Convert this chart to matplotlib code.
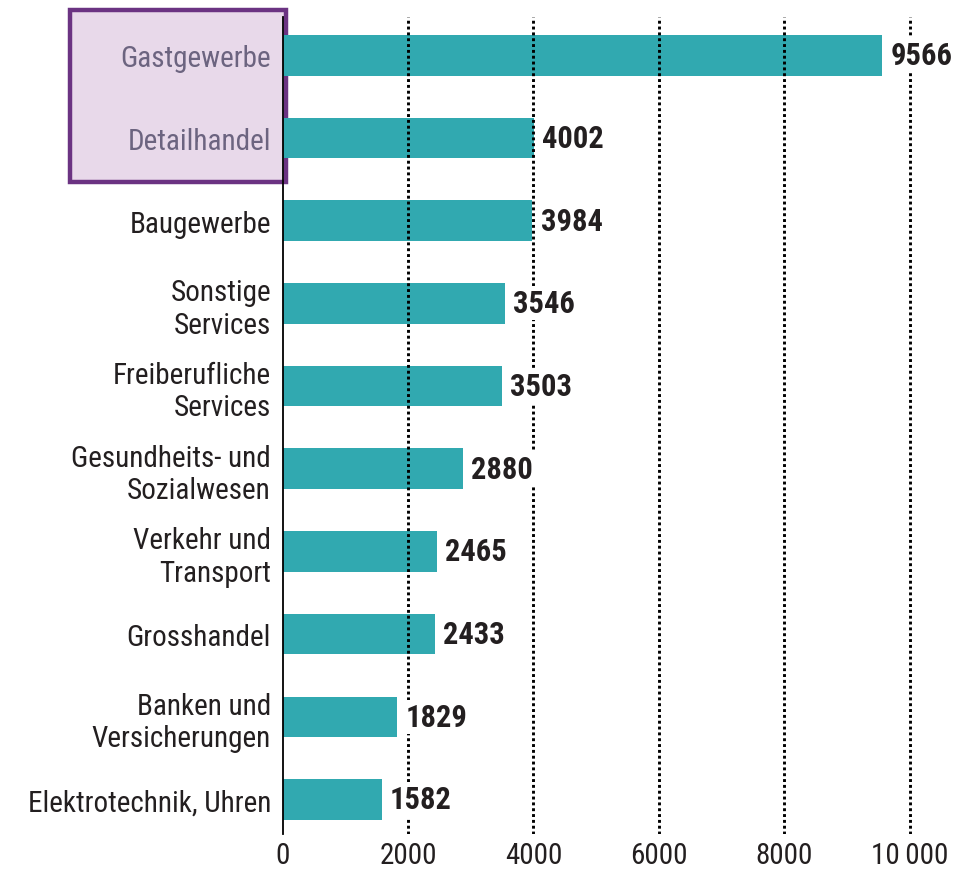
import matplotlib
matplotlib.use("Agg")
import matplotlib.pyplot as plt
from matplotlib.patches import Rectangle
from matplotlib import font_manager

# Data
categories = ["Gastgewerbe", "Detailhandel", "Baugewerbe", "Sonstige\nServices",
              "Freiberufliche\nServices", "Gesundheits- und\nSozialwesen",
              "Verkehr und\nTransport", "Grosshandel", "Banken und\nVersicherungen",
              "Elektrotechnik, Uhren"]
values = [9566, 4002, 3984, 3546, 3503, 2880, 2465, 2433, 1829, 1582]
highlighted = ["Gastgewerbe", "Detailhandel"]
xticks = [0, 2000, 4000, 6000, 8000, 10000]
xtick_labels = ["0", "2000", "4000", "6000", "8000", "10\u2009000"]

# a condensed face if one is around, else plain DejaVu at a smaller size
names = {f.name for f in font_manager.fontManager.ttflist}
condensed = ["Roboto Condensed", "Liberation Sans Narrow", "Archivo Narrow",
             "PT Sans Narrow", "Barlow Condensed", "Fira Sans Condensed",
             "IBM Plex Sans Condensed", "Open Sans Condensed"]
found = [n for n in condensed if n in names]
if found:
    plt.rcParams["font.family"] = [found[0], "DejaVu Sans"]
    fs = 21
else:
    plt.rcParams["font.family"] = ["DejaVu Sans"]
    fs = 15

bar_color = "#31a9b0"
text_color = "#231f20"
hl_color = "#6c6480"

fig = plt.figure(figsize=(9.75, 8.7), dpi=100)
ax = fig.add_axes([0.290, 0.040, 0.675, 0.939])
ax.set_facecolor("none")

# Highlight box behind the first two labels
box = Rectangle((70 / 975, 1 - 183 / 870), 216 / 975, 172 / 870, transform=fig.transFigure,
                facecolor="#e8d9ea", edgecolor="#6b3382", linewidth=3.2, zorder=-1)
fig.patches.append(box)

y = list(range(len(categories)))
ax.barh(y, values, height=0.49, color=bar_color, zorder=1)

# value labels sit on a white patch that hides the grid lines
for yi, v in zip(y, values):
    ax.text(v + 130, yi, str(v), va="center", ha="left", fontsize=fs + 1,
            fontweight="bold", color=text_color, zorder=3,
            bbox=dict(facecolor="white", edgecolor="none", pad=1.5))

for gx in xticks[1:]:
    ax.axvline(gx, color="black", linestyle=(0, (1, 1)), linewidth=2.1, zorder=2)

ax.set_xlim(0, 10500)
ax.set_ylim(9.42, -0.46)
ax.set_yticks(y)
ax.set_yticklabels(categories, fontsize=fs, color=text_color, linespacing=1.2)
for lbl in ax.get_yticklabels():
    if lbl.get_text() in highlighted:
        lbl.set_color(hl_color)
ax.set_xticks(xticks)
ax.set_xticklabels(xtick_labels, fontsize=fs, color=text_color)
ax.tick_params(axis="x", length=0, pad=5)
ax.tick_params(axis="y", length=0, pad=8.5)

for side in ["top", "right", "bottom"]:
    ax.spines[side].set_visible(False)
ax.spines["left"].set_linewidth(1.3)
ax.spines["left"].set_color("black")

fig.savefig("out.png", dpi=100)
